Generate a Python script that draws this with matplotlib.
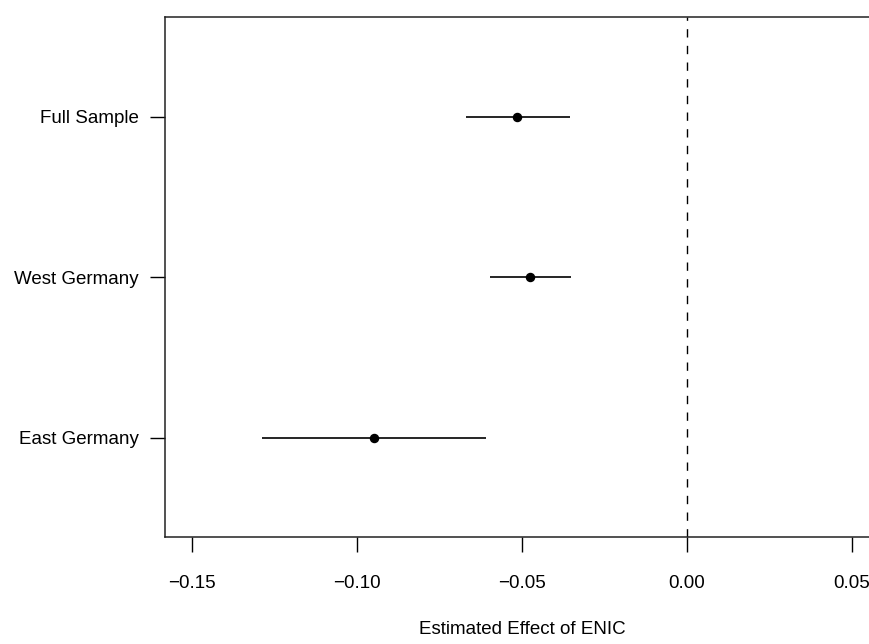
import matplotlib
matplotlib.use("Agg")
import matplotlib.pyplot as plt

# Estimativas e intervalos de confiança
groups = ["Full Sample", "West Germany", "East Germany"]
estimate = [-0.0515, -0.0476, -0.0948]
ci_low = [-0.0670, -0.0598, -0.1287]
ci_high = [-0.0354, -0.0352, -0.0609]
y_pos = [3, 2, 1]

x_ticks = [-0.15, -0.10, -0.05, 0.00, 0.05]
x_tick_labels = ["\u22120.15", "\u22120.10", "\u22120.05", "0.00", "0.05"]

plt.rcParams["font.family"] = ["Liberation Sans", "DejaVu Sans"]
plt.rcParams["font.size"] = 13.5

fig = plt.figure(figsize=(8.7, 6.44), dpi=100)
ax = fig.add_axes([0.1902, 0.1657, 0.8194, 0.808])

# Intervalos e pontos
ax.hlines(y_pos, ci_low, ci_high, color="black", linewidth=1.2)
ax.plot(estimate, y_pos, "o", color="black", markersize=5.8)

# Linha de referência em zero
ax.axvline(0, color="black", linewidth=1.0, linestyle=(0, (6, 6)))

ax.set_xlim(-0.158, 0.058)
ax.set_ylim(0.38, 3.62)

ax.set_xticks(x_ticks)
ax.set_xticklabels(x_tick_labels)
ax.set_yticks(y_pos)
ax.set_yticklabels(groups)

ax.tick_params(axis="both", direction="out", length=10.8, width=1.0,
               color="black", labelcolor="black")
ax.tick_params(axis="x", pad=16)
ax.tick_params(axis="y", pad=8.6)

for spine in ax.spines.values():
    spine.set_linewidth(1.1)
    spine.set_color("#222222")

ax.set_xlabel("Estimated Effect of ENIC", labelpad=21)

fig.savefig("out.png", dpi=100)
